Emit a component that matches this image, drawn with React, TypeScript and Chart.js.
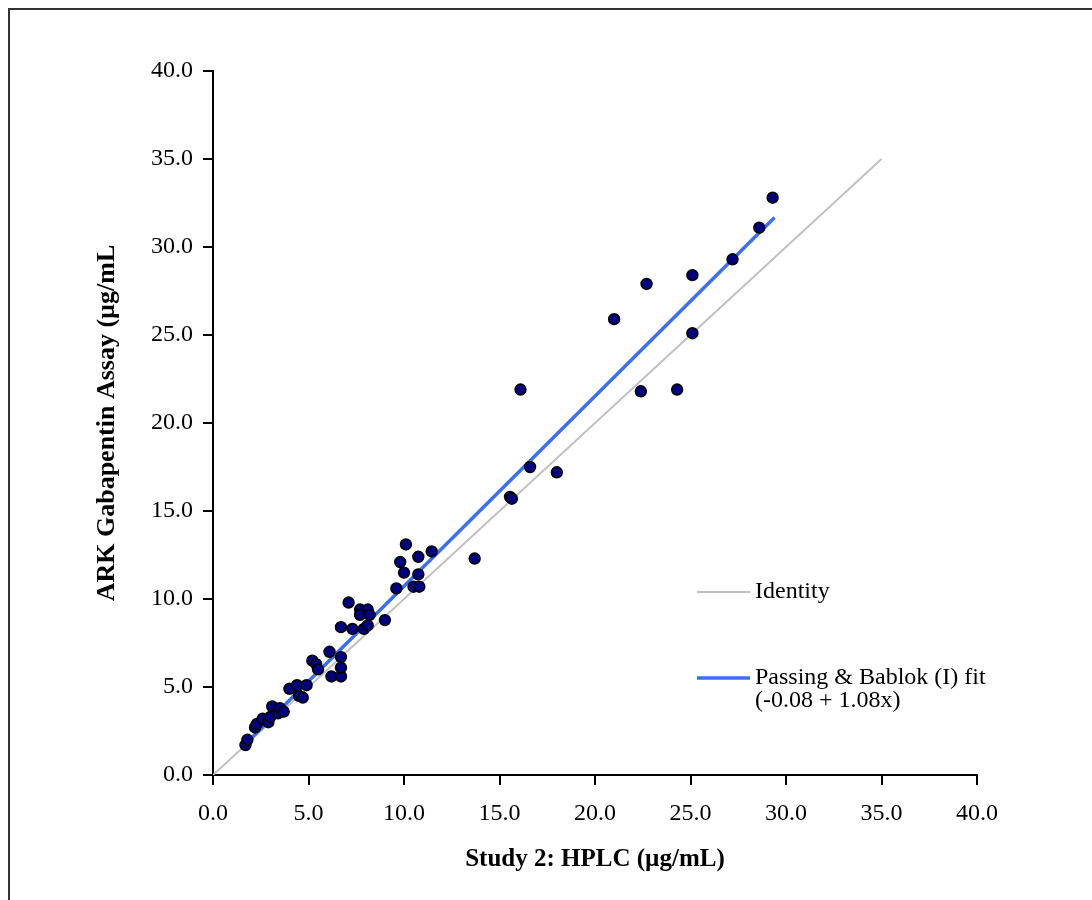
import React, { useEffect, useRef } from "react";
import { Chart, registerables } from "chart.js";

Chart.register(...registerables);

// Study 2: HPLC (x) vs ARK Gabapentin Assay (y), µg/mL
const hplcValues = [
  1.7, 1.8, 2.2, 2.3, 2.6, 2.9, 3.0, 3.1, 3.4, 3.5, 3.7, 4.0, 4.4, 4.9, 4.5, 4.7,
  5.2, 5.4, 5.5, 6.1, 6.2, 6.7, 6.7, 6.7, 6.7, 7.1, 7.3, 7.7, 8.1, 7.7, 8.2, 7.9,
  8.1, 9.0, 9.6, 9.8, 10.0, 10.1, 10.5, 10.8, 10.75, 10.75, 11.45, 13.7, 15.55, 15.65,
  16.1, 16.6, 18.0, 21.0, 22.4, 22.7, 24.3, 25.1, 25.1, 27.2, 28.6, 29.3,
];
const arkValues = [
  1.7, 2.0, 2.7, 2.9, 3.2, 3.0, 3.3, 3.9, 3.5, 3.8, 3.6, 4.9, 5.1, 5.1, 4.5, 4.4,
  6.5, 6.3, 6.0, 7.0, 5.6, 5.6, 6.7, 6.1, 8.4, 9.8, 8.3, 9.4, 9.4, 9.1, 9.1, 8.3,
  8.5, 8.8, 10.6, 12.1, 11.5, 13.1, 10.7, 10.7, 11.4, 12.4, 12.7, 12.3, 15.8, 15.7,
  21.9, 17.5, 17.2, 25.9, 21.8, 27.9, 21.9, 28.4, 25.1, 29.3, 31.1, 32.8,
];
const identityX = [0, 35];
const identityY = [0, 35];
const fitX = [1.7, 29.4];
const fitY = [1.76, 31.67];
const axisTicks = [0, 5, 10, 15, 20, 25, 30, 35, 40];

const xTitle = "Study 2: HPLC (µg/mL)";
const yTitle = "ARK Gabapentin Assay (µg/mL";
const identityLabel = "Identity";
const fitLabel = ["Passing & Bablok (I) fit", "(-0.08 + 1.08x)"];

const FONT = "'Liberation Serif', 'Times New Roman', serif";
const BLUE = "#3b6ff3";
const GRAY = "#c0c0c0";

const legendPlugin = {
  id: "customLegend",
  afterDraw(chart: any) {
    const { ctx, chartArea: a } = chart;
    ctx.save();
    ctx.font = `24px ${FONT}`;
    ctx.textBaseline = "middle";
    ctx.textAlign = "left";
    ctx.fillStyle = "#000";
    const x0 = a.left + 484;
    const x1 = a.left + 537;
    let y = a.top + 521;
    ctx.strokeStyle = GRAY;
    ctx.lineWidth = 2;
    ctx.beginPath();
    ctx.moveTo(x0, y);
    ctx.lineTo(x1, y);
    ctx.stroke();
    ctx.fillText(identityLabel, x1 + 5, y);
    y = a.top + 607;
    ctx.strokeStyle = BLUE;
    ctx.lineWidth = 3.5;
    ctx.beginPath();
    ctx.moveTo(x0, y);
    ctx.lineTo(x1, y);
    ctx.stroke();
    ctx.fillText(fitLabel[0], x1 + 5, y);
    ctx.fillText(fitLabel[1], x1 + 5, y + 23);
    ctx.restore();
  },
};

export default function App() {
  const ref = useRef<HTMLCanvasElement | null>(null);

  useEffect(() => {
    if (!ref.current) return;
    const tickFont = { family: FONT, size: 24 };
    const xTitleFont = { family: FONT, size: 25, weight: "bold" as const };
    const yTitleFont = { family: FONT, size: 26, weight: "bold" as const };
    const chart = new Chart(ref.current, {
      type: "scatter",
      data: {
        datasets: [
          {
            label: "Samples",
            data: hplcValues.map((x, i) => ({ x, y: arkValues[i] })),
            backgroundColor: "#000080",
            borderColor: "#000000",
            borderWidth: 1.6,
            pointRadius: 5.4,
            showLine: false,
          },
          {
            label: "Passing & Bablok (I) fit",
            data: fitX.map((x, i) => ({ x, y: fitY[i] })),
            showLine: true,
            borderColor: BLUE,
            borderWidth: 3.5,
            pointRadius: 0,
          },
          {
            label: "Identity",
            data: identityX.map((x, i) => ({ x, y: identityY[i] })),
            showLine: true,
            borderColor: GRAY,
            borderWidth: 2,
            pointRadius: 0,
          },
        ],
      },
      options: {
        animation: false,
        responsive: false,
        maintainAspectRatio: false,
        layout: { padding: { left: 0, top: 61, right: 107, bottom: 0 } },
        plugins: {
          legend: { display: false },
          tooltip: { enabled: false },
        },
        scales: {
          x: {
            type: "linear",
            min: 0,
            max: 40,
            afterFit: (s: any) => {
              s.height = 117;
            },
            afterBuildTicks: (s: any) => {
              s.ticks = axisTicks.map((v) => ({ value: v }));
            },
            ticks: {
              font: tickFont,
              color: "#000",
              padding: 14,
              maxRotation: 0,
              callback: (v: any) => Number(v).toFixed(1),
            },
            grid: {
              drawOnChartArea: false,
              drawTicks: true,
              tickLength: 10,
              color: "#000",
              lineWidth: 2,
            },
            border: { display: true, color: "#000", width: 2 },
            title: {
              display: true,
              text: xTitle,
              font: xTitleFont,
              color: "#000",
              padding: { top: 0, bottom: 17 },
            },
          },
          y: {
            type: "linear",
            min: 0,
            max: 40,
            afterFit: (s: any) => {
              s.width = 203;
            },
            afterBuildTicks: (s: any) => {
              s.ticks = axisTicks.map((v) => ({ value: v }));
            },
            ticks: {
              font: tickFont,
              color: "#000",
              padding: 10,
              callback: (v: any) => Number(v).toFixed(1),
            },
            grid: {
              drawOnChartArea: false,
              drawTicks: true,
              tickLength: 10,
              color: "#000",
              lineWidth: 2,
            },
            border: { display: true, color: "#000", width: 2 },
            title: {
              display: true,
              text: yTitle,
              font: yTitleFont,
              color: "#000",
              padding: { top: 82, bottom: 0 },
            },
          },
        },
      },
      plugins: [legendPlugin],
    });
    return () => chart.destroy();
  }, []);

  return (
    <div
      style={{
        position: "absolute",
        left: 8,
        top: 8,
        borderLeft: "2px solid #333",
        borderTop: "2px solid #333",
        width: 1082,
        height: 890,
        background: "#fff",
      }}
    >
      <canvas ref={ref} width={1074} height={882} style={{ display: "block" }} />
    </div>
  );
}
